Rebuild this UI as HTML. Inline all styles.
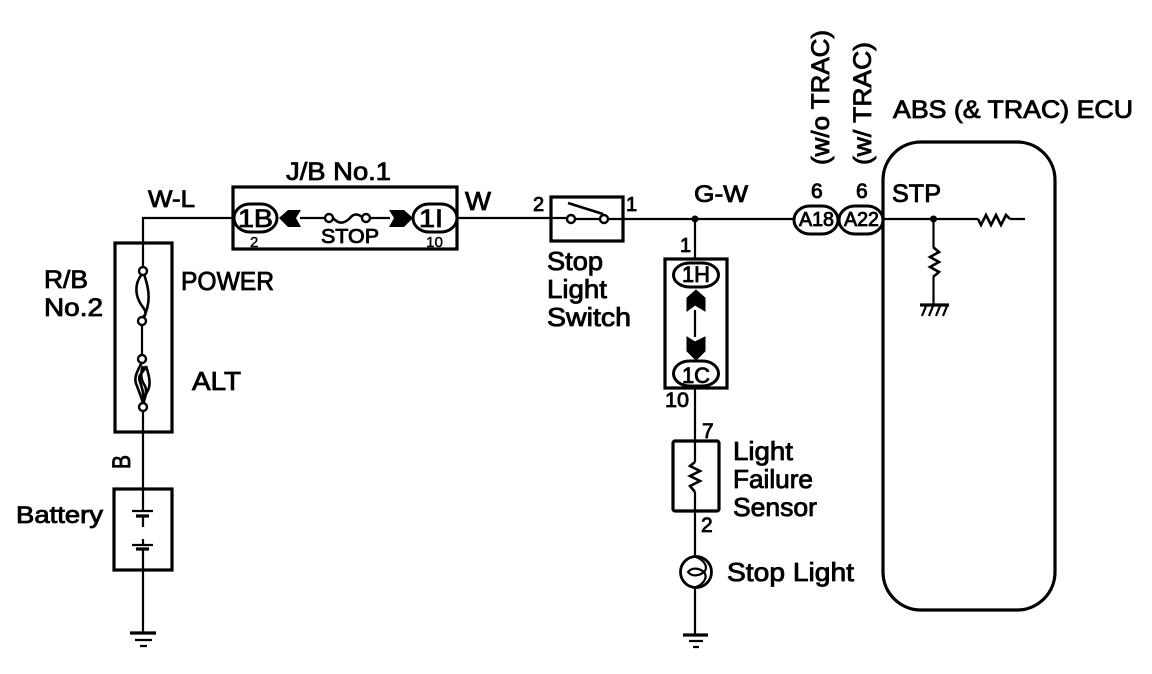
<!DOCTYPE html>
<html><head><meta charset="utf-8"><style>
html,body{margin:0;padding:0;background:#fff}
svg{display:block}
text{font-family:"Liberation Sans",sans-serif;fill:#000;stroke:#000;stroke-width:.85px}
.b{fill:none;stroke:#000;stroke-width:3.2}
.w{fill:none;stroke:#000;stroke-width:2.2}
.r{fill:none;stroke:#000;stroke-width:2.6}
.o{fill:#fff;stroke:#000;stroke-width:3}
.c{fill:#fff;stroke:#000;stroke-width:2.4}
</style></head><body>
<svg width="1152" height="674" viewBox="0 0 1152 674" xmlns="http://www.w3.org/2000/svg">
<rect width="1152" height="674" fill="#fff"/>
<!-- wires -->
<path class="w" d="M233 218H143V271M142 325V355M143 411V511M143 516V527M143 539V545M143 549V633"/>
<path class="w" d="M457 218H567M575 219H600M608 219H794M695 219V259M695 387V441M695 511V556M695 588V635"/>
<path class="w" d="M695 441V462M695 492V511M695 310V337M838 219H840M883 219H978M1010 219H1025M933.500 219V247M933.500 277V304"/>
<path class="w" d="M300 218H325M370 218H390"/>
<!-- boxes -->
<rect class="b" x="233" y="187" width="224" height="62"/>
<rect class="b" x="115" y="243" width="57" height="189"/>
<rect class="b" x="114" y="489" width="58" height="81"/>
<rect class="b" x="551" y="197" width="72" height="44"/>
<rect class="b" x="665" y="259" width="62" height="129"/>
<rect class="b" x="673" y="441" width="46" height="70" rx="2"/>
<rect class="b" x="883" y="142" width="172" height="468" rx="38"/>
<!-- ovals -->
<rect class="o" x="234" y="204" width="43" height="28" rx="16" ry="14"/>
<rect class="o" x="413" y="204" width="44" height="28" rx="16" ry="14"/>
<rect class="o" x="673.500" y="263" width="45" height="24" rx="16" ry="12"/>
<rect class="o" x="673.500" y="361" width="45" height="25" rx="16" ry="12.500"/>
<rect class="o" x="794" y="206" width="44" height="28" rx="16" ry="14"/>
<rect class="o" x="839" y="206" width="44" height="28" rx="16" ry="14"/>
<!-- connector arrows -->
<path d="M279 218L288 210H301L296 218L301 227H288Z"/>
<path d="M413 218L404 210H389L394 218L389 227H404Z"/>
<path d="M696 290L687 298V311L695 305L705 311V298Z" stroke="#000"/>
<path d="M696 360L687 351V337L695 342L705 337V351Z" stroke="#000"/>
<!-- J/B fuse -->
<path class="r" d="M333 218C340 226 346 222 350 218C354 213 358 214 362 217"/>
<circle class="c" cx="329" cy="218" r="4"/><circle class="c" cx="366" cy="218" r="4"/>
<!-- POWER fuse -->
<path class="r" d="M142 274C134 284 135 296 142 306C147 312 146 315 143 318M144 274C148 286 151 298 146 312C145 315 144 316 143 318"/>
<circle class="c" cx="143" cy="271" r="4"/><circle class="c" cx="142" cy="321" r="4"/>
<!-- ALT fuse -->
<path class="r" d="M142 362C137 372 133 378 137 386C139 392 142 398 143 404M146 366C143 374 137 374 140 382C143 390 144 396 143 404M146 366C150 378 151 386 147 392C145 396 144 400 143 404M143 366C140 374 141 380 145 386C147 390 146 396 143 404"/>
<circle class="c" cx="142" cy="359" r="4"/><circle class="c" cx="143" cy="407" r="4"/>
<!-- switch -->
<circle class="c" cx="571" cy="219" r="4"/><circle class="c" cx="604" cy="219" r="4"/>
<path class="r" d="M568 203L603 214"/>
<!-- junctions -->
<circle cx="695" cy="219" r="3.500"/><circle cx="933.500" cy="219" r="3.500"/>
<!-- battery -->
<path class="w" d="M132 511H153M132 545H153"/>
<path class="b" d="M136 516H149M136 549H149"/>
<!-- grounds -->
<path class="b" d="M130 633H156"/><path class="w" d="M135 640H152M140 646H147"/>
<path class="b" d="M683 635H708"/><path class="w" d="M689 641H703M693 647H699"/>
<!-- resistors -->
<path class="r" d="M695 462L690 466L700 471L690 476L700 481L690 486L695 492"/>
<path class="r" d="M933 247L939 252L930 257L939 262L930 267L939 272L933 277"/>
<path class="r" d="M978 219L981 225L986 215L991 225L996 215L1001 225L1006 215L1010 219"/>
<!-- chassis ground -->
<path class="b" d="M920 305H949"/>
<path class="w" d="M926 306L922 316M933 306L929 316M940 306L936 316M947 306L943 316"/>
<!-- lamp -->
<circle cx="696" cy="572" r="15.500" fill="#fff" stroke="#000" stroke-width="2.800"/>
<path class="w" d="M688 572C692 567 699 568 704 572C699 576 692 577 688 572Z"/>
<path class="w" d="M696 557C706 561 708 568 704 572C708 577 704 584 696 587"/>
<!-- labels -->
<text x="286" y="180" font-size="25" textLength="105" lengthAdjust="spacingAndGlyphs">J/B No.1</text>
<text x="148" y="207" font-size="24" textLength="47" lengthAdjust="spacingAndGlyphs">W-L</text>
<text x="465" y="210" font-size="26" textLength="26" lengthAdjust="spacingAndGlyphs">W</text>
<text x="181" y="290" font-size="26" textLength="93" lengthAdjust="spacingAndGlyphs">POWER</text>
<text x="192" y="390" font-size="26" textLength="49" lengthAdjust="spacingAndGlyphs">ALT</text>
<text x="44" y="288" font-size="25" textLength="44" lengthAdjust="spacingAndGlyphs">R/B</text>
<text x="44" y="316" font-size="25" textLength="59" lengthAdjust="spacingAndGlyphs">No.2</text>
<text x="321" y="243" font-size="20" textLength="58" lengthAdjust="spacingAndGlyphs">STOP</text>
<text x="238" y="227" font-size="25" textLength="35" lengthAdjust="spacingAndGlyphs">1B</text>
<text x="419" y="227" font-size="25" textLength="24" lengthAdjust="spacingAndGlyphs">1I</text>
<text x="250" y="247" font-size="15" style="stroke-width:.4px">2</text>
<text x="426" y="247" font-size="15" textLength="17" lengthAdjust="spacingAndGlyphs" style="stroke-width:.4px">10</text>
<text x="533" y="211" font-size="20">2</text>
<text x="626" y="211" font-size="20">1</text>
<text x="694" y="202" font-size="24" textLength="54" lengthAdjust="spacingAndGlyphs">G-W</text>
<text x="547" y="270" font-size="26" textLength="56" lengthAdjust="spacingAndGlyphs">Stop</text>
<text x="547" y="298" font-size="26" textLength="60" lengthAdjust="spacingAndGlyphs">Light</text>
<text x="547" y="326" font-size="26" textLength="84" lengthAdjust="spacingAndGlyphs">Switch</text>
<text x="680" y="252" font-size="20">1</text>
<text x="682" y="282" font-size="22" textLength="28" lengthAdjust="spacingAndGlyphs">1H</text>
<text x="682" y="383" font-size="22" textLength="28" lengthAdjust="spacingAndGlyphs">1C</text>
<text x="665" y="407" font-size="21" textLength="24" lengthAdjust="spacingAndGlyphs">10</text>
<text x="811" y="198" font-size="21">6</text>
<text x="856" y="198" font-size="21">6</text>
<text x="799" y="226" font-size="20" textLength="35" lengthAdjust="spacingAndGlyphs">A18</text>
<text x="844" y="226" font-size="20" textLength="35" lengthAdjust="spacingAndGlyphs">A22</text>
<text x="892" y="202" font-size="25" textLength="49" lengthAdjust="spacingAndGlyphs">STP</text>
<text x="893" y="118" font-size="25" textLength="240" lengthAdjust="spacingAndGlyphs">ABS (&amp; TRAC) ECU</text>
<text transform="translate(829 165) rotate(-90)" font-size="25" textLength="135" lengthAdjust="spacingAndGlyphs">(w/o TRAC)</text>
<text transform="translate(871 165) rotate(-90)" font-size="25" textLength="123" lengthAdjust="spacingAndGlyphs">(w/ TRAC)</text>
<text transform="translate(130 469) rotate(-90)" font-size="25" textLength="14" lengthAdjust="spacingAndGlyphs">B</text>
<text x="16" y="523" font-size="24" textLength="87" lengthAdjust="spacingAndGlyphs">Battery</text>
<text x="702" y="438" font-size="21">7</text>
<text x="701" y="532" font-size="21">2</text>
<text x="733" y="460" font-size="26" textLength="60" lengthAdjust="spacingAndGlyphs">Light</text>
<text x="733" y="488" font-size="26" textLength="80" lengthAdjust="spacingAndGlyphs">Failure</text>
<text x="733" y="516" font-size="26" textLength="84" lengthAdjust="spacingAndGlyphs">Sensor</text>
<text x="727" y="581" font-size="26" textLength="127" lengthAdjust="spacingAndGlyphs">Stop Light</text>
</svg>
</body></html>
